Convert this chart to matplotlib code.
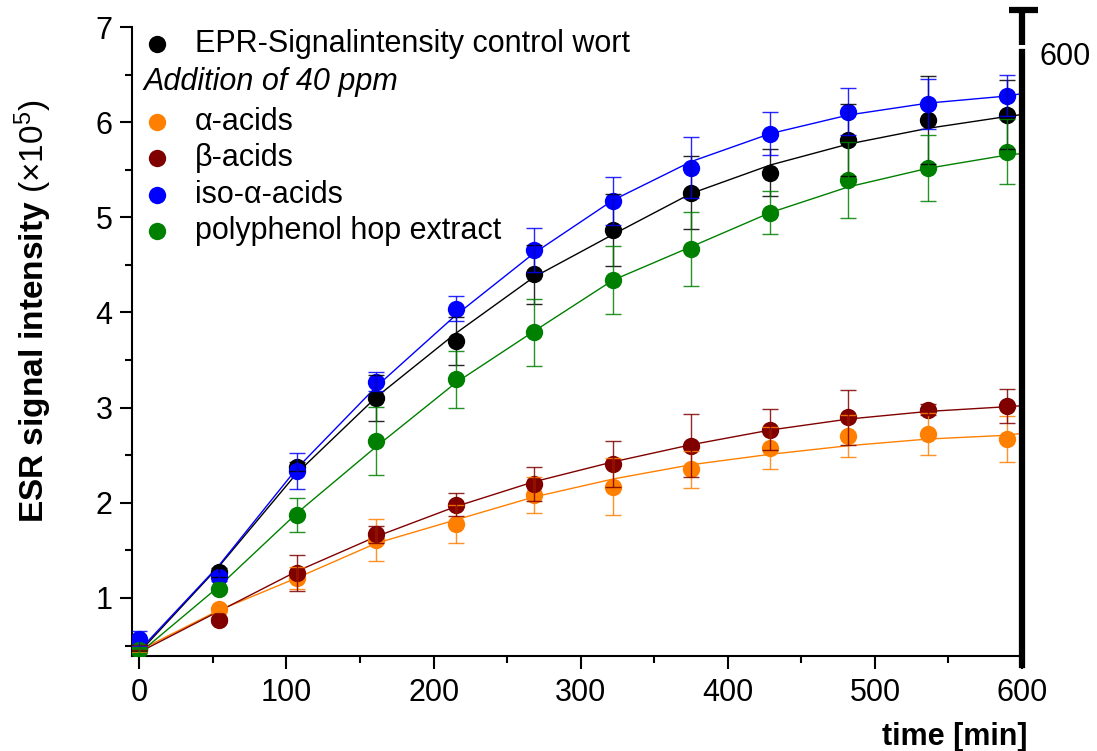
import matplotlib
matplotlib.use("Agg")
import matplotlib.pyplot as plt
from matplotlib.ticker import MultipleLocator

plt.rcParams['font.family'] = ['Liberation Sans', 'DejaVu Sans']
plt.rcParams['mathtext.fontset'] = 'custom'
plt.rcParams['mathtext.rm'] = 'Liberation Sans'
plt.rcParams['mathtext.bf'] = 'Liberation Sans:bold'
plt.rcParams['mathtext.it'] = 'Liberation Sans:italic'

# measurement times [min]
time = [0, 54, 107, 161, 215, 268, 322, 375, 429, 482, 536, 590]

# ESR signal intensity (x1e5) with standard deviations
control = [0.47, 1.27, 2.38, 3.10, 3.70, 4.40, 4.87, 5.26, 5.47, 5.81, 6.02, 6.08]
control_err = [0.03, 0.05, 0.05, 0.24, 0.25, 0.31, 0.38, 0.38, 0.25, 0.38, 0.46, 0.36]
alpha = [0.46, 0.88, 1.21, 1.61, 1.78, 2.08, 2.17, 2.35, 2.58, 2.70, 2.72, 2.67]
alpha_err = [0.03, 0.03, 0.12, 0.22, 0.20, 0.19, 0.30, 0.19, 0.22, 0.22, 0.22, 0.24]
beta = [0.48, 0.77, 1.26, 1.67, 1.98, 2.20, 2.41, 2.60, 2.77, 2.90, 2.98, 3.02]
beta_err = [0.03, 0.03, 0.19, 0.09, 0.12, 0.18, 0.24, 0.33, 0.22, 0.29, 0.06, 0.18]
iso = [0.57, 1.22, 2.33, 3.27, 4.04, 4.66, 5.17, 5.52, 5.88, 6.11, 6.19, 6.28]
iso_err = [0.08, 0.04, 0.19, 0.10, 0.13, 0.23, 0.25, 0.32, 0.23, 0.25, 0.26, 0.22]
poly = [0.45, 1.09, 1.87, 2.65, 3.30, 3.79, 4.34, 4.67, 5.05, 5.39, 5.52, 5.69]
poly_err = [0.03, 0.03, 0.18, 0.36, 0.30, 0.35, 0.36, 0.39, 0.23, 0.40, 0.35, 0.34]

# fitted curves
fit_time = [0, 54, 107, 161, 215, 268, 322, 375, 429, 482, 536, 590, 600]
control_fit = [0.43, 1.33, 2.31, 3.11, 3.78, 4.37, 4.82, 5.25, 5.55, 5.77, 5.935, 6.06, 6.08]
alpha_fit = [0.45, 0.87, 1.21, 1.575, 1.82, 2.06, 2.25, 2.40, 2.51, 2.60, 2.67, 2.71, 2.73]
beta_fit = [0.43, 0.86, 1.28, 1.645, 1.96, 2.22, 2.43, 2.61, 2.765, 2.88, 2.96, 3.01, 3.02]
iso_fit = [0.45, 1.34, 2.36, 3.22, 3.97, 4.62, 5.18, 5.585, 5.88, 6.075, 6.20, 6.275, 6.30]
poly_fit = [0.42, 1.12, 1.89, 2.59, 3.26, 3.80, 4.34, 4.69, 5.05, 5.32, 5.515, 5.655, 5.67]

series = [
    ('EPR-Signalintensity control wort', control, control_err, control_fit, '#000000'),
    ('\u03b1-acids', alpha, alpha_err, alpha_fit, '#FF8000'),
    ('\u03b2-acids', beta, beta_err, beta_fit, '#800000'),
    ('iso-\u03b1-acids', iso, iso_err, iso_fit, '#0000FF'),
    ('polyphenol hop extract', poly, poly_err, poly_fit, '#008000'),
]

fig = plt.figure(figsize=(10.97, 7.51), dpi=100)
ax = fig.add_axes([132 / 1097, 95 / 751, 890 / 1097, 629 / 751])

for label, y, err, fit, col in series:
    ax.plot(fit_time, fit, '-', color=col, linewidth=1.0, zorder=2)
    ax.plot(time, y, 'o', color=col, markersize=12.5, markeredgewidth=0, zorder=3)
    ax.errorbar(time, y, yerr=err, fmt='none', ecolor=col, elinewidth=1.0,
                capsize=5.5, capthick=1.0, alpha=0.85, zorder=4)

ax.set_xlim(-5, 600)
ax.set_ylim(0.39, 7)
ax.xaxis.set_major_locator(MultipleLocator(100))
ax.xaxis.set_minor_locator(MultipleLocator(50))
ax.yaxis.set_major_locator(MultipleLocator(1))
ax.yaxis.set_minor_locator(MultipleLocator(0.5))
ax.set_yticks([1, 2, 3, 4, 5, 6, 7])

ax.tick_params(which='major', direction='out', length=9, width=1.5, labelsize=22, pad=5)
ax.tick_params(which='minor', direction='out', length=5, width=1.5)
ax.tick_params(axis='x', which='major', pad=7)

ax.spines['top'].set_visible(False)
ax.spines['left'].set_linewidth(1.5)
ax.spines['bottom'].set_linewidth(1.5)
ax.spines['right'].set_linewidth(4.5)
ax.spines['right'].set_bounds(0.30, 6.74)

# stray axis end marker at the top right
ax.plot([591, 611], [7.18, 7.18], color='black', linewidth=4.5, clip_on=False,
        solid_capstyle='butt')
ax.plot([600, 600], [7.18, 6.81], color='black', linewidth=4.5, clip_on=False,
        solid_capstyle='butt')
ax.text(1.02, 0.953, '600', transform=ax.transAxes, fontsize=22,
        ha='left', va='center')

ax.set_ylabel('$\\mathbf{ESR\\ signal\\ intensity}$ (\u00d710$^{5}$)', fontsize=24)
ax.yaxis.set_label_coords(-0.088, 0.548)
ax.set_xlabel('time [min]', fontsize=22, fontweight='bold', ha='right')
ax.xaxis.set_label_coords(1.006, -0.105)

# legend drawn by hand (one italic sub-heading without marker)
rows = [0.973, 0.849, 0.792, 0.733, 0.676]
for (label, y, err, fit, col), ry in zip(series, rows):
    ax.plot([0.0281], [ry], 'o', color=col, markersize=12.5, markeredgewidth=0,
            transform=ax.transAxes, clip_on=False)
    ax.text(0.0708, ry, label, transform=ax.transAxes, fontsize=22,
            ha='left', va='center')
ax.text(0.0124, 0.9126, 'Addition of 40 ppm', transform=ax.transAxes,
        fontsize=22, style='italic', ha='left', va='center')

fig.savefig('out.png', dpi=100, facecolor='white')
